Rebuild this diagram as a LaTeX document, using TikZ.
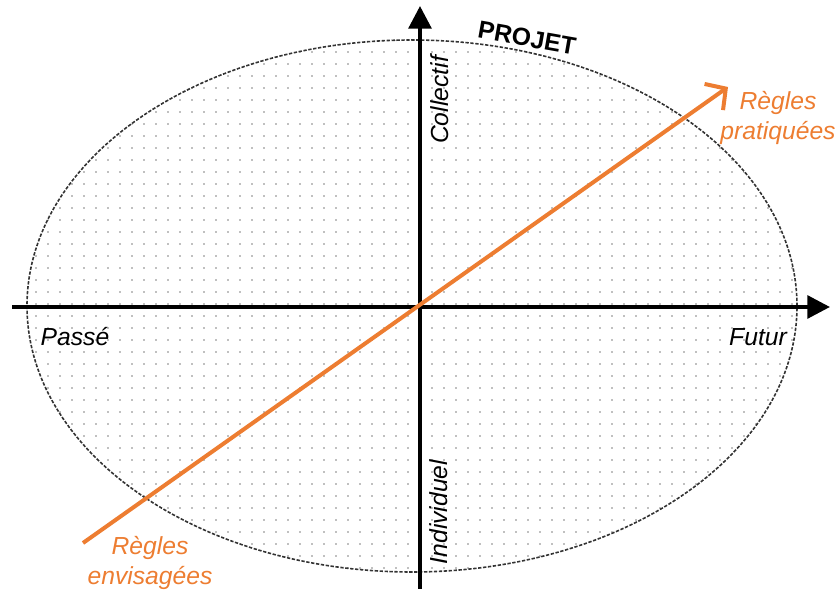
\documentclass[tikz,border=0pt]{standalone}
\usepackage{fontspec}
\setmainfont{Liberation Sans}
\usetikzlibrary{arrows.meta,patterns.meta}
\definecolor{orangeregle}{HTML}{ED7D31}
\begin{document}
\begin{tikzpicture}[x=0.75pt, y=0.75pt,
        every node/.style={font=\fontsize{18.5}{22.5}\selectfont\itshape, inner sep=0pt},
        axe/.style={line width=3pt, -{Triangle[length=17pt, width=17pt]}},
        regle/.style={text=orangeregle, align=center}]
        \useasboundingbox (0,0) rectangle (840,592);

        \fill[pattern={Dots[distance=9pt, radius=0.6pt]}, pattern color=black!50] (412,286) ellipse [x radius=385, y radius=266];
        \draw[dash pattern=on 2.5pt off 1.2pt, line width=1.2pt, black!80] (412,286) ellipse [x radius=385, y radius=266];

        \coordinate (ouest) at (12,285);
        \coordinate (est) at (830,285);
        \coordinate (sud) at (420,3);
        \coordinate (nord) at (420,586);
        \coordinate (debut) at (83,49);
        \coordinate (fin) at (728,505);

        \draw[axe] (ouest) -- (est);
        \draw[axe] (sud) -- (nord);
        \draw[line width=3pt, orangeregle, -{Straight Barb[length=11pt, width=24pt]}] (debut) -- (fin);

        \node[font=\fontsize{18.5}{22.5}\selectfont\bfseries, rotate=-10] (projet) at (527,554) {PROJET};
        \node[rotate=90] (collectif) at (440,492) {Collectif};
        \node[rotate=90] (individuel) at (439,80) {Individuel};
        \node (passe) at (75,255) {Passé};
        \node (futur) at (758,255) {Futur};
        \node[regle] (envisagees) at (150,29) {Règles\\envisagées};
        \node[regle] (pratiquees) at (778,474) {Règles\\pratiquées};
    \end{tikzpicture}
\end{document}
